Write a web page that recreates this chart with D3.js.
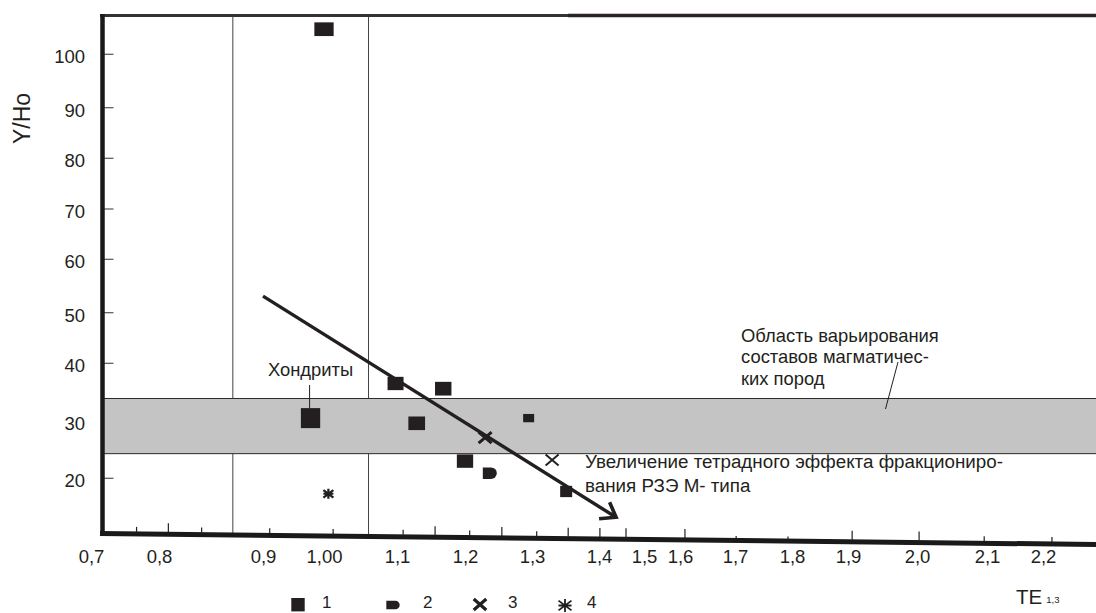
<!DOCTYPE html>
<html>
<head>
<meta charset="utf-8">
<script src="https://cdn.jsdelivr.net/npm/d3@7"></script>
<style>
  html, body { margin: 0; padding: 0; background: #fff; }
  svg { display: block; font-family: "Liberation Sans", Arial, sans-serif; }
</style>
</head>
<body>
<svg id="chart" width="1096" height="613"></svg>
<script>
// ---- axis ticks ----
const xTickValues = [0.7, 0.8, 0.9, 1.0, 1.1, 1.2, 1.3, 1.4, 1.5, 1.6, 1.7, 1.8, 1.9, 2.0, 2.1, 2.2];
const xTickLabels = ["0,7", "0,8", "0,9", "1,00", "1,1", "1,2", "1,3", "1,4", "1,5", "1,6", "1,7", "1,8", "1,9", "2,0", "2,1", "2,2"];
const yTickValues = [20, 30, 40, 50, 60, 70, 80, 90, 100];
// unlabelled marks along the TE axis
const xMarksLong = [0.809, 1.156, 1.255, 1.354, 1.402, 1.46, 1.609, 1.906, 2.003];
const xMarksShort = [0.767, 0.841, 0.911, 1.0125, 1.109, 1.207, 1.307, 2.096, 2.216];
const xMarksTiny = [1.702, 1.793];

// ---- samples ----
// 1: squares
const s1TE   = [1.0,   1.098, 1.168, 1.129, 1.295, 1.2,  1.351];
const s1YHo  = [104.7, 36.5,  35.6,  29.6,  30.5,  23.0, 17.7];
// chondrite
const chondriteTE = [0.978];
const chondriteYHo = [30.5];
// 2
const s2TE  = [1.237];
const s2YHo = [20.9];
// 3: crosses
const s3TE  = [1.230, 1.330];
const s3YHo = [27.1, 23.2];
// 4
const s4TE  = [1.006];
const s4YHo = [17.3];

// field of magmatic rocks (Y/Ho)
const magmaticYHo = [24.3, 33.9];
// TE bounds of the chondrite field
const chondriteBoundsTE = [0.871, 1.061];
// trend of increasing M-type tetrad effect
const trendTE  = [0.9, 1.438];
const trendYHo = [53.1, 13.2];

const legendLabels = ["1", "2", "3", "4"];

// ---- layout ----
const ink = "#231f20";
const frameLeft = 102.5, frameTop = 15.5, frameRight = 1096;
const axisYLeft = 533.5, axisYRight = 544.5;   // bottom axis runs slightly downhill
const axisY = px => axisYLeft + (px - 100) * (axisYRight - axisYLeft) / (frameRight - 100);

// hand-drawn, non-uniform scales
const x = d3.scaleLinear()
  .domain(xTickValues)
  .range([91, 159, 263, 324, 397, 465, 532, 599, 644, 680, 735, 792, 848, 917, 987, 1043]);
const y = d3.scaleLinear()
  .domain(yTickValues)
  .range([478.3, 421, 363.3, 312.7, 259.3, 209, 158.3, 107.7, 54.3]);

const svg = d3.select("#chart");

// y ticks (inside the frame)
svg.append("g").selectAll("line").data(yTickValues).join("line")
  .attr("x1", frameLeft + 1).attr("x2", frameLeft + 11)
  .attr("y1", d => y(d)).attr("y2", d => y(d))
  .attr("stroke", "#555").attr("stroke-width", 1.2);

// chondrite field bounds
svg.append("g").selectAll("line").data(chondriteBoundsTE).join("line")
  .attr("x1", d => x(d)).attr("x2", d => x(d))
  .attr("y1", frameTop).attr("y2", d => axisY(x(d)) - 2)
  .attr("stroke", "#444").attr("stroke-width", 1);

// magmatic rock band
const bandTop = y(magmaticYHo[1]), bandBot = y(magmaticYHo[0]);
svg.append("rect")
  .attr("x", frameLeft + 1).attr("y", bandTop)
  .attr("width", frameRight - frameLeft).attr("height", bandBot - bandTop)
  .attr("fill", "#c4c4c4");
svg.append("g").selectAll("line").data(magmaticYHo).join("line")
  .attr("x1", frameLeft + 1).attr("x2", frameRight)
  .attr("y1", d => y(d)).attr("y2", d => y(d))
  .attr("stroke", "#2a2a2a").attr("stroke-width", 1);

// x-axis marks
function drawMarks(vals, len) {
  svg.append("g").selectAll("line").data(vals).join("line")
    .attr("x1", d => x(d)).attr("x2", d => x(d))
    .attr("y1", d => axisY(x(d)) - 2).attr("y2", d => axisY(x(d)) - 2 - len)
    .attr("stroke", ink).attr("stroke-width", 1.2);
}
drawMarks(xMarksLong, 9);
drawMarks(xMarksShort, 5);
drawMarks(xMarksTiny, 2.5);

// frame: top, left, bottom
svg.append("line").attr("x1", 100).attr("x2", 568).attr("y1", frameTop).attr("y2", frameTop)
  .attr("stroke", "#333").attr("stroke-width", 3);
svg.append("line").attr("x1", 568).attr("x2", frameRight).attr("y1", frameTop).attr("y2", frameTop)
  .attr("stroke", "#2a2522").attr("stroke-width", 3.6);
svg.append("line").attr("x1", frameLeft).attr("x2", frameLeft).attr("y1", 14).attr("y2", 536)
  .attr("stroke", "#1a1a1a").attr("stroke-width", 4.5);
svg.append("line").attr("x1", 100).attr("x2", frameRight).attr("y1", axisYLeft).attr("y2", axisYRight)
  .attr("stroke", "#1a1a1a").attr("stroke-width", 5);

// tick labels
const gx = svg.append("g").attr("transform", "translate(0,550)")
  .call(d3.axisBottom(x).tickValues(xTickValues).tickFormat((d, i) => xTickLabels[i]).tickSize(0).tickPadding(0));
gx.select(".domain").remove();
gx.selectAll("text").attr("font-size", 18.5).attr("fill", ink).attr("font-family", "Liberation Sans, Arial, sans-serif");

const gy = svg.append("g").attr("transform", "translate(85,0)")
  .call(d3.axisLeft(y).tickValues(yTickValues).tickSize(0).tickPadding(0));
gy.select(".domain").remove();
gy.selectAll("text").attr("font-size", 18.5).attr("fill", ink)
  .attr("font-family", "Liberation Sans, Arial, sans-serif")
  .attr("transform", "translate(0,2.5)");

// axis titles
svg.append("text").attr("transform", "translate(30,118.5) rotate(-90)")
  .attr("text-anchor", "middle").attr("font-size", 23).attr("fill", ink).text("Y/Ho");
const te = svg.append("text").attr("x", 1016).attr("y", 604).attr("fill", ink);
te.append("tspan").attr("font-size", 20.5).text("TE");
te.append("tspan").attr("font-size", 9.5).attr("dx", 4).attr("dy", -1).text("1,3");

// trend arrow
const tx0 = x(trendTE[0]), ty0 = y(trendYHo[0]);
const tx1 = x(trendTE[1]), ty1 = y(trendYHo[1]);
svg.append("line").attr("x1", tx0).attr("y1", ty0).attr("x2", tx1 - 2).attr("y2", ty1 - 1.2)
  .attr("stroke", ink).attr("stroke-width", 3.4).attr("stroke-linecap", "butt");
svg.append("path")
  .attr("d", `M${tx1 - 6.5},${ty1 - 15} L${tx1},${ty1} L${tx1 - 17},${ty1 + 1.5}`)
  .attr("fill", "none").attr("stroke", ink).attr("stroke-width", 3.6)
  .attr("stroke-linejoin", "miter");

// series 1 squares (individual mark sizes)
const s1Size = [[19.3, 13.7], [16, 13.3], [16.4, 13.7], [16.7, 13.6], [11, 8.3], [16.3, 13.4], [12, 11.3]];
svg.append("g").selectAll("rect").data(s1TE.map((t, i) => ({ t, v: s1YHo[i], s: s1Size[i] }))).join("rect")
  .attr("x", d => x(d.t) - d.s[0] / 2).attr("y", d => y(d.v) - d.s[1] / 2)
  .attr("width", d => d.s[0]).attr("height", d => d.s[1])
  .attr("fill", ink);

// chondrite square
svg.append("g").selectAll("rect").data(chondriteTE.map((t, i) => ({ t, v: chondriteYHo[i] }))).join("rect")
  .attr("x", d => x(d.t) - 9.7).attr("y", d => y(d.v) - 10)
  .attr("width", 19.3).attr("height", 20).attr("fill", ink);

// series 2 mark: square with a rounded right side
const bullet = (w, h) => `M${-w / 2},${-h / 2} H${w / 2 - h / 2} A${h / 2},${h / 2} 0 0 1 ${w / 2 - h / 2},${h / 2} H${-w / 2} Z`;
svg.append("g").selectAll("path").data(s2TE.map((t, i) => ({ t, v: s2YHo[i] }))).join("path")
  .attr("transform", d => `translate(${x(d.t)},${y(d.v)})`)
  .attr("d", bullet(14, 11.5)).attr("fill", ink);

// series 3 crosses
const cross = (w, h) => `M${-w / 2},${-h / 2} L${w / 2},${h / 2} M${w / 2},${-h / 2} L${-w / 2},${h / 2}`;
const s3Width = [3, 2];
svg.append("g").selectAll("path").data(s3TE.map((t, i) => ({ t, v: s3YHo[i], sw: s3Width[i] }))).join("path")
  .attr("transform", d => `translate(${x(d.t)},${y(d.v)})`)
  .attr("d", cross(13, 11)).attr("fill", "none").attr("stroke", ink).attr("stroke-width", d => d.sw);

// series 4 star
const star = r => `M0,${-r} V${r} M${-r},${-r * 0.75} L${r},${r * 0.75} M${r},${-r * 0.75} L${-r},${r * 0.75} M${-r},0 H${r}`;
svg.append("g").selectAll("path").data(s4TE.map((t, i) => ({ t, v: s4YHo[i] }))).join("path")
  .attr("transform", d => `translate(${x(d.t)},${y(d.v)})`)
  .attr("d", star(5)).attr("fill", "none").attr("stroke", ink).attr("stroke-width", 2.2);

// annotations
const ann = svg.append("g").attr("fill", ink).attr("font-size", 18.4);
ann.append("text").attr("x", x(chondriteTE[0])).attr("y", 376).attr("text-anchor", "middle").text("Хондриты");
svg.append("line").attr("x1", x(chondriteTE[0]) - 1).attr("x2", x(chondriteTE[0]) - 1)
  .attr("y1", 385).attr("y2", y(chondriteYHo[0]) - 10).attr("stroke", ink).attr("stroke-width", 1);

const fieldNote = ["Область варьирования", "составов магматичес-", "ких пород"];
ann.append("text").selectAll("tspan").data(fieldNote).join("tspan")
  .attr("x", 741).attr("y", (d, i) => 341.5 + i * 21.7).text(d => d);
svg.append("line").attr("x1", 898).attr("y1", 362).attr("x2", 885.5).attr("y2", 409)
  .attr("stroke", ink).attr("stroke-width", 1);

const trendNote = ["Увеличение тетрадного эффекта фракциониро-", "вания РЗЭ М- типа"];
ann.append("text").attr("font-size", 18.8).selectAll("tspan").data(trendNote).join("tspan")
  .attr("x", 585).attr("y", (d, i) => 468 + i * 23.5).text(d => d);

// legend
const lg = svg.append("g");
const legendX = [298, 393, 480, 565];
lg.append("rect").attr("x", legendX[0] - 6.7).attr("y", 598).attr("width", 13.4).attr("height", 13.4).attr("fill", ink);
lg.append("path").attr("transform", `translate(${legendX[1]},605)`).attr("d", bullet(13.4, 8.5)).attr("fill", ink);
lg.append("path").attr("transform", `translate(${legendX[2]},604.5)`).attr("d", cross(12.5, 11))
  .attr("fill", "none").attr("stroke", ink).attr("stroke-width", 3.2);
lg.append("path").attr("transform", `translate(${legendX[3]},605.5)`).attr("d", star(6.5))
  .attr("fill", "none").attr("stroke", ink).attr("stroke-width", 1.8);
lg.selectAll("text").data(legendLabels).join("text")
  .attr("x", (d, i) => legendX[i] + [24, 30, 28, 22][i]).attr("y", 608)
  .attr("font-size", 17).attr("fill", ink).text(d => d);
</script>
</body>
</html>
